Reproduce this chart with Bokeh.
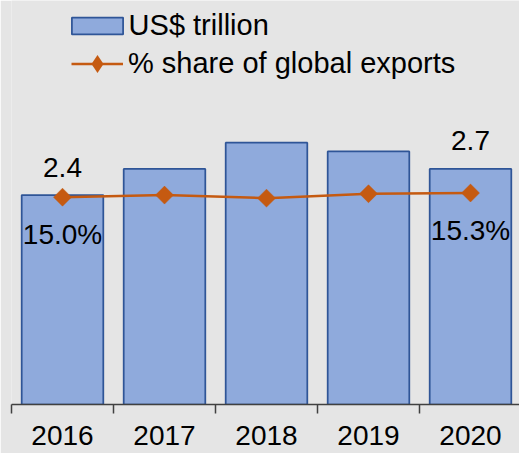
import math
from bokeh.plotting import figure
from bokeh.models import ColumnDataSource, Range1d, FixedTicker, Legend, LegendItem
from bokeh.core.properties import value
from bokeh.embed import file_html
from bokeh.resources import INLINE

years = ["2016", "2017", "2018", "2019", "2020"]
trillion = [2.4, 2.7, 3.0, 2.9, 2.7]
share = [15.0, 15.15, 14.93, 15.25, 15.3]

BG = "#e5e5e5"
BAR_FILL = "#8faadc"
BAR_LINE = "#2f5597"
LINE_C = "#c55a11"
FONT = "Liberation Sans"

xs = [i + 0.5 for i in range(len(years))]
src = ColumnDataSource(dict(x=xs, year=years, v=trillion, s=share))

first_last = [0, len(years) - 1]
lab_src = ColumnDataSource(dict(
    x=[xs[i] for i in first_last],
    v=[trillion[i] for i in first_last],
    s=[share[i] for i in first_last],
    vt=["%.1f" % trillion[i] for i in first_last],
    st=["%.1f%%" % share[i] for i in first_last],
))

FRAME_H = 406
p = figure(width=519, height=453, output_backend="svg",
           toolbar_location=None, y_axis_location=None,
           x_range=Range1d(0, 508 / 102.0), y_range=Range1d(0, FRAME_H / 87.7),
           min_border_left=11, min_border_right=0, min_border_top=0, min_border_bottom=0,
           background_fill_color=BG, border_fill_color=BG)
p.extra_y_ranges = {"pct": Range1d(0, FRAME_H / 13.89)}
p.outline_line_color = None
p.grid.visible = False

bars = p.vbar(x="x", top="v", width=0.8, source=src, fill_color=BAR_FILL,
              line_color=BAR_LINE, line_width=1.75)
ln = p.line(x="x", y="s", source=src, line_color=LINE_C, line_width=2.5, y_range_name="pct")
# diamond glyph (used for the legend key), covered by the rotated squares
dm = p.scatter(x="x", y="s", source=src, marker="diamond", size=17,
               fill_color=LINE_C, line_color=None, y_range_name="pct")
mk = p.scatter(x="x", y="s", source=src, marker="square", angle=math.pi / 4, size=12.7,
               fill_color=LINE_C, line_color=LINE_C, line_width=0.5, y_range_name="pct")

p.text(x="x", y="v", text="vt", source=lab_src, text_align="center",
       text_baseline="alphabetic", y_offset=-28, text_font=value(FONT),
       text_font_size="28px", text_color="black")
p.text(x="x", y="s", text="st", source=lab_src, text_align="center",
       text_baseline="alphabetic", y_offset=37, text_font=value(FONT),
       text_font_size="28px", text_color="black", y_range_name="pct")

ax = p.xaxis[0]
ax.ticker = FixedTicker(ticks=xs, minor_ticks=list(range(len(years) + 1)))
ax.major_label_overrides = {x: y for x, y in zip(xs, years)}
ax.major_tick_out = 0
ax.major_tick_in = 0
ax.major_tick_line_color = None
ax.minor_tick_out = 9
ax.minor_tick_in = 0
ax.minor_tick_line_color = "#404040"
ax.minor_tick_line_width = 1.5
ax.axis_line_color = "#404040"
ax.axis_line_width = 1.5
ax.major_label_standoff = 12
ax.major_label_text_font = FONT
ax.major_label_text_font_size = "28px"
ax.major_label_text_color = "black"
ax.axis_label = " "
ax.axis_label_standoff = 0
ax.axis_label_text_font_size = "3px"

common = dict(padding=0, spacing=0, margin=0, border_line_alpha=0,
              background_fill_alpha=0, label_text_font=FONT,
              label_text_font_size="29px", label_text_color="black")
leg1 = Legend(items=[LegendItem(label="US$ trillion", renderers=[bars])],
              location=(53.6, FRAME_H - 44.4), glyph_width=64, glyph_height=21,
              label_standoff=0, **common)
leg2 = Legend(items=[LegendItem(label="% share of global exports", renderers=[ln, dm])],
              location=(60, FRAME_H - 87.5), glyph_width=52, glyph_height=45,
              label_standoff=5, **common)
p.add_layout(leg1)
p.add_layout(leg2)

open("out.html", "w").write(file_html(p, INLINE))
